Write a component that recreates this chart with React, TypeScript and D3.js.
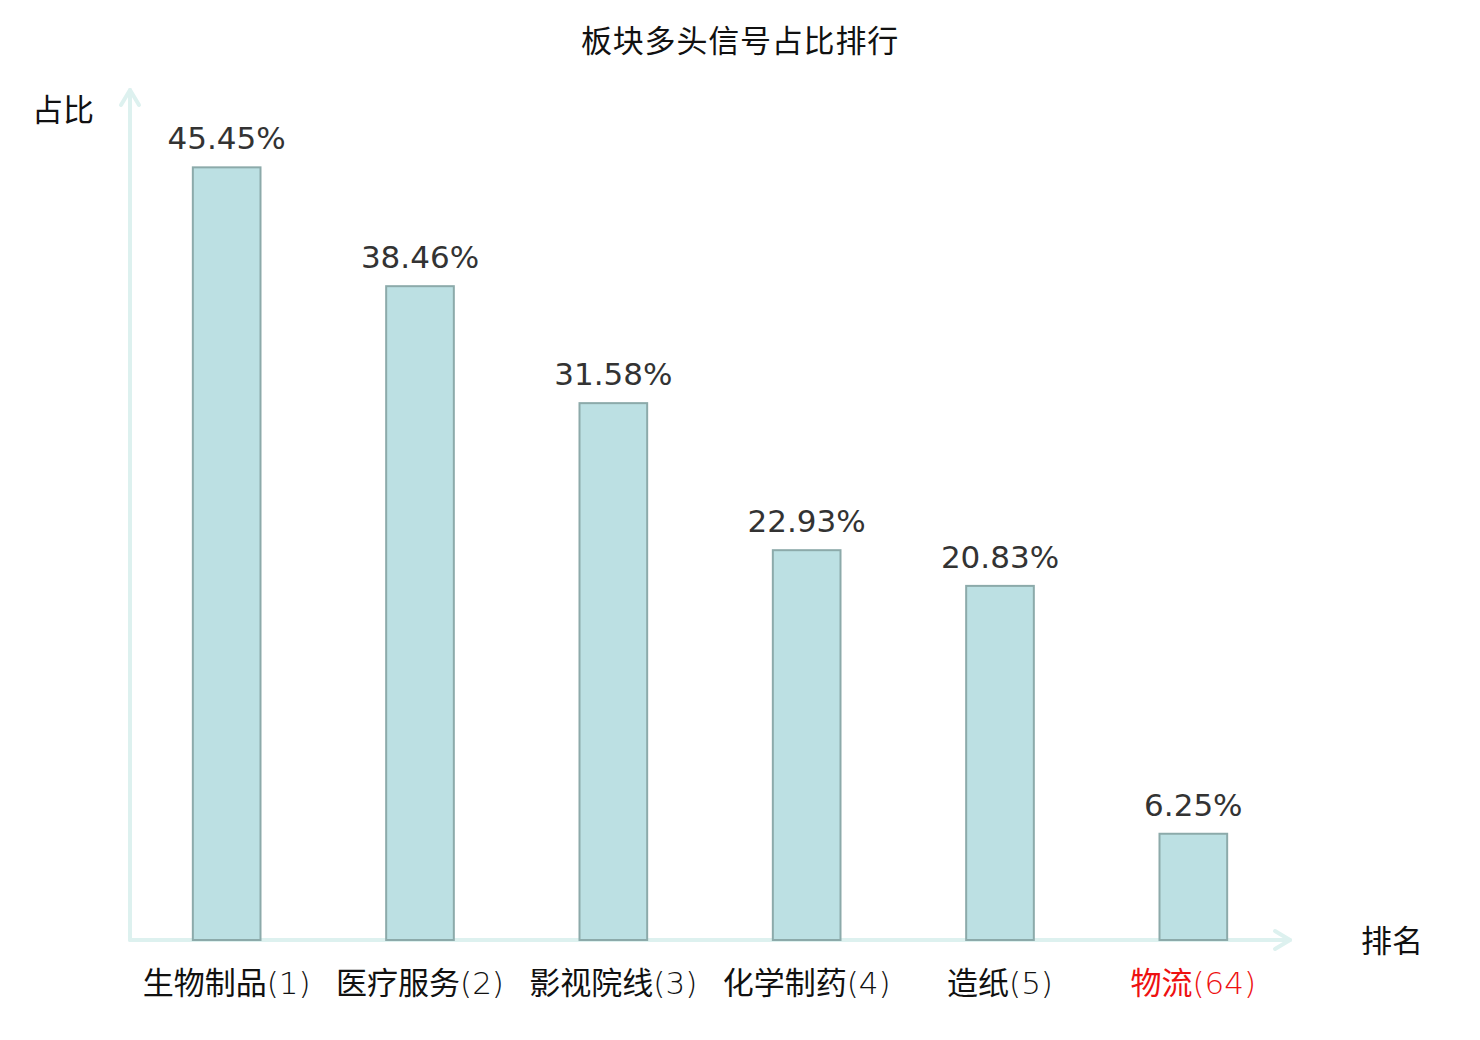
import React, { useRef, useEffect } from "react";
import * as d3 from "d3";

const categories = ["生物制品", "医疗服务", "影视院线", "化学制药", "造纸", "物流"];
const ranks = [1, 2, 3, 4, 5, 64];
const shares = [45.45, 38.46, 31.58, 22.93, 20.83, 6.25];
const highlight = "物流";

const width = 1480;
const height = 1040;
const origin = { x: 130, y: 940 };
const axisEnd = { x: 1290, y: 90 };

const App: React.FC = () => {
  const svgRef = useRef<SVGSVGElement>(null);

  useEffect(() => {
    const svg = d3.select(svgRef.current);
    svg.selectAll("*").remove();

    const x = d3
      .scaleBand()
      .domain(categories)
      .range([origin.x, axisEnd.x])
      .paddingInner(0.65)
      .paddingOuter(0.325);

    const y = d3.scaleLinear().domain([0, 50]).range([origin.y, axisEnd.y]);

    const font = "'DejaVu Sans', 'Noto Sans CJK SC', sans-serif";
    const axisColor = "#ddf1ef";

    // title
    svg
      .append("text")
      .attr("x", 740)
      .attr("y", 52)
      .attr("text-anchor", "middle")
      .style("font-family", font)
      .style("font-size", "31px")
      .style("letter-spacing", "0.8px")
      .style("fill", "#111")
      .text("板块多头信号占比排行");

    // axes
    const axes = svg
      .append("g")
      .attr("stroke", axisColor)
      .attr("stroke-width", 4)
      .attr("fill", "none")
      .attr("stroke-linecap", "round")
      .attr("stroke-linejoin", "round");

    axes
      .append("line")
      .attr("x1", origin.x)
      .attr("y1", origin.y)
      .attr("x2", origin.x)
      .attr("y2", axisEnd.y);
    axes
      .append("path")
      .attr("d", `M${origin.x - 9},${axisEnd.y + 15}L${origin.x},${axisEnd.y}L${origin.x + 9},${axisEnd.y + 15}`);

    axes
      .append("line")
      .attr("x1", origin.x)
      .attr("y1", origin.y)
      .attr("x2", axisEnd.x)
      .attr("y2", origin.y);
    axes
      .append("path")
      .attr("d", `M${axisEnd.x - 15},${origin.y - 9}L${axisEnd.x},${origin.y}L${axisEnd.x - 15},${origin.y + 9}`);

    // axis names
    svg
      .append("text")
      .attr("x", 63)
      .attr("y", 121)
      .attr("text-anchor", "middle")
      .style("font-family", font)
      .style("font-size", "31px")
      .style("fill", "#111")
      .text("占比");

    svg
      .append("text")
      .attr("x", 1392)
      .attr("y", 952)
      .attr("text-anchor", "middle")
      .style("font-family", font)
      .style("font-size", "31px")
      .style("fill", "#111")
      .text("排名");

    // bars
    svg
      .append("g")
      .selectAll("rect")
      .data(categories)
      .join("rect")
      .attr("x", (d) => x(d)!)
      .attr("y", (d, i) => y(shares[i]))
      .attr("width", x.bandwidth())
      .attr("height", (d, i) => origin.y - y(shares[i]))
      .attr("fill", "#bce0e3")
      .attr("stroke", "#8caaaa")
      .attr("stroke-width", 2);

    // value labels
    svg
      .append("g")
      .selectAll("text")
      .data(categories)
      .join("text")
      .attr("x", (d) => x(d)! + x.bandwidth() / 2)
      .attr("y", (d, i) => y(shares[i]) - 18)
      .attr("text-anchor", "middle")
      .style("font-family", "'DejaVu Sans', sans-serif")
      .style("font-size", "31px")
      .style("fill", "#333")
      .text((d, i) => `${shares[i].toFixed(2)}%`);

    // category labels
    const cat = svg
      .append("g")
      .selectAll("text")
      .data(categories)
      .join("text")
      .attr("x", (d) => x(d)! + x.bandwidth() / 2)
      .attr("y", origin.y + 54)
      .attr("text-anchor", "middle")
      .style("font-family", font)
      .style("font-size", "31px")
      .style("fill", (d) => (d === highlight ? "#ee1111" : "#111"));
    cat.append("tspan").text((d) => d);
    cat
      .append("tspan")
      .style("font-weight", 200)
      .text((d, i) => `(${ranks[i]})`);
  }, []);

  return (
    <svg
      ref={svgRef}
      width={width}
      height={height}
      style={{ position: "absolute", left: 0, top: 0, background: "white" }}
    />
  );
};

export default App;
